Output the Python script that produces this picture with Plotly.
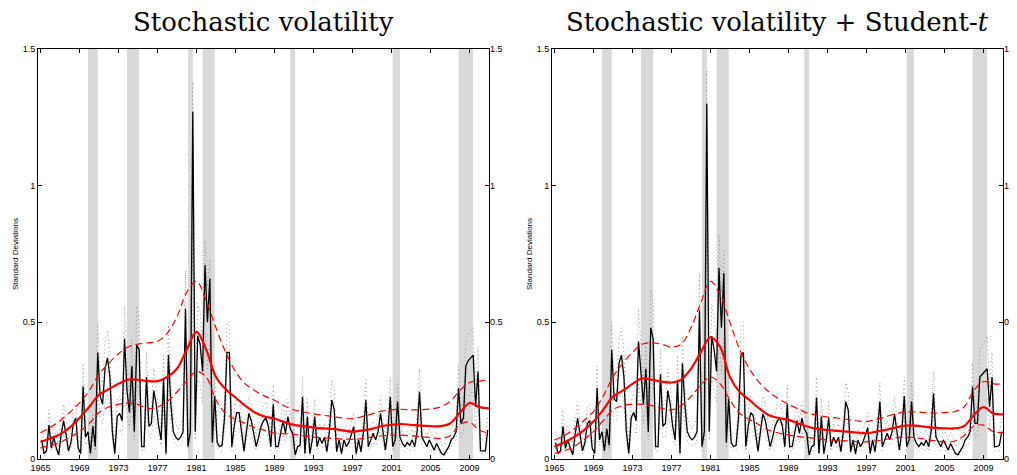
import plotly.graph_objects as go

# ---------------- data ----------------
START_YEAR = 1965
N_QUARTERS = 184  # 1965Q1 .. 2010Q4

# Stochastic volatility (left panel): posterior median and bands, quarterly
SV_MED = [
    0.07, 0.02, 0.03, 0.124,   0.04, 0.08, 0.04, 0.015,   0.09, 0.14, 0.09, 0.03,   0.06, 0.13, 0.15, 0.04,
    0.02, 0.265, 0.08, 0.10,   0.02, 0.12, 0.045, 0.39,   0.23, 0.20, 0.33, 0.37,   0.30, 0.10, 0.02, 0.155,
    0.167, 0.14, 0.44, 0.25,   0.17, 0.34, 0.10, 0.417,   0.40, 0.045, 0.045, 0.30,  0.12, 0.13, 0.25, 0.20,
    0.12, 0.07, 0.29, 0.02,    0.38, 0.20, 0.10, 0.08,    0.07, 0.08, 0.10, 0.55,    0.045, 0.10, 1.27, 0.10,
    0.45, 0.42, 0.32, 0.71,    0.50, 0.66, 0.06, 0.23,    0.06, 0.045, 0.05, 0.15,   0.39, 0.39, 0.045, 0.12,
    0.17, 0.17, 0.10, 0.03,    0.10, 0.167, 0.14, 0.09,   0.045, 0.08, 0.12, 0.14,   0.15, 0.12, 0.045, 0.20,
    0.045, 0.045, 0.09, 0.14,  0.094, 0.155, 0.11, 0.094, 0.015, 0.045, 0.05, 0.228, 0.02, 0.155, 0.02, 0.07,
    0.155, 0.045, 0.08, 0.057, 0.08, 0.027, 0.10, 0.216,  0.18, 0.027, 0.07, 0.02,   0.07, 0.045, 0.06, 0.09,
    0.118, 0.02, 0.07, 0.027,  0.10, 0.216, 0.045, 0.07,  0.094, 0.07, 0.10, 0.167,  0.09, 0.033, 0.10, 0.228,
    0.045, 0.07, 0.21, 0.08,   0.057, 0.045, 0.06, 0.05,  0.07, 0.045, 0.10, 0.246,  0.08, 0.06, 0.045, 0.07,
    0.05, 0.033, 0.057, 0.04,  0.02, 0.015, 0.03, 0.045,  0.07, 0.08, 0.10, 0.26,    0.13, 0.15, 0.34, 0.36,
    0.37, 0.38, 0.19, 0.32,    0.03, 0.03, 0.03, 0.106,
]
SV_UP = [
    0.11, 0.05, 0.07, 0.18,   0.08, 0.13, 0.08, 0.05,   0.14, 0.20, 0.14, 0.07,   0.10, 0.19, 0.21, 0.08,
    0.05, 0.35, 0.13, 0.15,   0.05, 0.17, 0.08, 0.50,   0.31, 0.27, 0.43, 0.47,   0.39, 0.15, 0.05, 0.22,
    0.23, 0.20, 0.56, 0.33,   0.23, 0.44, 0.15, 0.56,   0.51, 0.08, 0.08, 0.39,   0.17, 0.19, 0.33, 0.27,
    0.17, 0.11, 0.38, 0.05,   0.49, 0.27, 0.15, 0.13,   0.11, 0.13, 0.15, 0.69,   0.08, 0.15, 1.38, 0.15,
    0.57, 0.53, 0.41, 0.80,   0.63, 0.73, 0.10, 0.31,   0.10, 0.08, 0.09, 0.21,   0.50, 0.50, 0.08, 0.17,
    0.23, 0.23, 0.15, 0.07,   0.15, 0.23, 0.20, 0.14,   0.08, 0.13, 0.17, 0.20,   0.21, 0.17, 0.08, 0.27,
    0.08, 0.08, 0.14, 0.20,   0.14, 0.22, 0.16, 0.14,   0.05, 0.08, 0.09, 0.30,   0.05, 0.22, 0.05, 0.11,
    0.22, 0.08, 0.13, 0.10,   0.13, 0.06, 0.15, 0.29,   0.25, 0.06, 0.11, 0.05,   0.11, 0.08, 0.10, 0.14,
    0.17, 0.05, 0.11, 0.06,   0.15, 0.29, 0.08, 0.11,   0.14, 0.11, 0.15, 0.23,   0.14, 0.07, 0.15, 0.30,
    0.08, 0.11, 0.28, 0.13,   0.10, 0.08, 0.10, 0.09,   0.11, 0.08, 0.15, 0.33,   0.13, 0.10, 0.08, 0.11,
    0.09, 0.07, 0.10, 0.08,   0.05, 0.05, 0.07, 0.08,   0.11, 0.13, 0.15, 0.34,   0.19, 0.21, 0.44, 0.46,
    0.47, 0.48, 0.26, 0.41,   0.07, 0.07, 0.07, 0.16,
]
SV_LO = [
    0.05, 0.01, 0.02, 0.08,   0.03, 0.05, 0.03, 0.01,   0.06, 0.09, 0.06, 0.02,   0.04, 0.08, 0.10, 0.03,
    0.01, 0.17, 0.05, 0.07,   0.01, 0.08, 0.03, 0.25,   0.15, 0.13, 0.21, 0.24,   0.20, 0.07, 0.01, 0.10,
    0.11, 0.09, 0.29, 0.16,   0.11, 0.22, 0.07, 0.27,   0.26, 0.03, 0.03, 0.20,   0.08, 0.08, 0.16, 0.13,
    0.08, 0.05, 0.19, 0.01,   0.25, 0.13, 0.07, 0.05,   0.05, 0.05, 0.07, 0.36,   0.03, 0.07, 0.83, 0.07,
    0.29, 0.27, 0.21, 0.46,   0.33, 0.43, 0.04, 0.15,   0.04, 0.03, 0.03, 0.10,   0.25, 0.25, 0.03, 0.08,
    0.11, 0.11, 0.07, 0.02,   0.07, 0.11, 0.09, 0.06,   0.03, 0.05, 0.08, 0.09,   0.10, 0.08, 0.03, 0.13,
    0.03, 0.03, 0.06, 0.09,   0.06, 0.10, 0.07, 0.06,   0.01, 0.03, 0.03, 0.15,   0.01, 0.10, 0.01, 0.05,
    0.10, 0.03, 0.05, 0.04,   0.05, 0.02, 0.07, 0.14,   0.12, 0.02, 0.05, 0.01,   0.05, 0.03, 0.04, 0.06,
    0.08, 0.01, 0.05, 0.02,   0.07, 0.14, 0.03, 0.05,   0.06, 0.05, 0.07, 0.11,   0.06, 0.02, 0.07, 0.15,
    0.03, 0.05, 0.14, 0.05,   0.04, 0.03, 0.04, 0.03,   0.05, 0.03, 0.07, 0.16,   0.05, 0.04, 0.03, 0.05,
    0.03, 0.02, 0.04, 0.03,   0.01, 0.01, 0.02, 0.03,   0.05, 0.05, 0.07, 0.17,   0.08, 0.10, 0.22, 0.23,
    0.24, 0.25, 0.12, 0.21,   0.02, 0.02, 0.02, 0.07,
]

# Stochastic volatility + Student-t (right panel)
SVT_MED = [
    0.06, 0.02, 0.03, 0.12,    0.04, 0.07, 0.04, 0.015,   0.09, 0.15, 0.09, 0.03,    0.06, 0.13, 0.14, 0.04,
    0.02, 0.26, 0.07, 0.10,    0.03, 0.11, 0.05, 0.40,    0.22, 0.21, 0.35, 0.38,    0.30, 0.10, 0.02, 0.15,
    0.17, 0.14, 0.43, 0.30,    0.20, 0.33, 0.10, 0.48,    0.44, 0.045, 0.045, 0.31,  0.12, 0.13, 0.25, 0.20,
    0.12, 0.07, 0.29, 0.02,    0.35, 0.20, 0.10, 0.08,    0.07, 0.08, 0.10, 0.545,   0.045, 0.10, 1.30, 0.10,
    0.45, 0.40, 0.32, 0.70,    0.48, 0.68, 0.06, 0.22,    0.06, 0.045, 0.05, 0.15,   0.38, 0.39, 0.045, 0.12,
    0.17, 0.16, 0.10, 0.03,    0.10, 0.165, 0.14, 0.09,   0.045, 0.08, 0.12, 0.14,   0.15, 0.12, 0.045, 0.20,
    0.045, 0.045, 0.09, 0.14,  0.094, 0.15, 0.11, 0.094,  0.015, 0.045, 0.05, 0.225, 0.02, 0.155, 0.02, 0.07,
    0.15, 0.045, 0.08, 0.057,  0.08, 0.027, 0.10, 0.21,   0.18, 0.027, 0.07, 0.02,   0.07, 0.045, 0.06, 0.09,
    0.115, 0.02, 0.07, 0.027,  0.10, 0.21, 0.045, 0.07,   0.094, 0.07, 0.10, 0.165,  0.09, 0.033, 0.10, 0.23,
    0.045, 0.07, 0.21, 0.08,   0.057, 0.045, 0.06, 0.05,  0.07, 0.045, 0.10, 0.24,   0.08, 0.06, 0.045, 0.07,
    0.05, 0.033, 0.057, 0.04,  0.02, 0.015, 0.03, 0.045,  0.07, 0.08, 0.10, 0.265,   0.13, 0.13, 0.30, 0.31,
    0.32, 0.33, 0.19, 0.30,    0.045, 0.045, 0.05, 0.10,
]
SVT_UP = [
    0.10, 0.05, 0.07, 0.18,   0.08, 0.12, 0.08, 0.05,   0.14, 0.21, 0.14, 0.07,   0.10, 0.19, 0.20, 0.08,
    0.05, 0.34, 0.12, 0.15,   0.06, 0.16, 0.09, 0.50,   0.30, 0.28, 0.44, 0.48,   0.39, 0.15, 0.05, 0.21,
    0.24, 0.20, 0.55, 0.39,   0.27, 0.43, 0.15, 0.62,   0.55, 0.08, 0.08, 0.40,   0.17, 0.19, 0.33, 0.27,
    0.17, 0.11, 0.38, 0.05,   0.45, 0.27, 0.15, 0.13,   0.11, 0.13, 0.15, 0.68,   0.08, 0.15, 1.42, 0.15,
    0.57, 0.51, 0.41, 0.82,   0.61, 0.76, 0.10, 0.30,   0.10, 0.08, 0.09, 0.21,   0.49, 0.50, 0.08, 0.17,
    0.23, 0.22, 0.15, 0.07,   0.15, 0.23, 0.20, 0.14,   0.08, 0.13, 0.17, 0.20,   0.21, 0.17, 0.08, 0.27,
    0.08, 0.08, 0.14, 0.20,   0.14, 0.21, 0.16, 0.14,   0.05, 0.08, 0.09, 0.30,   0.05, 0.22, 0.05, 0.11,
    0.21, 0.08, 0.13, 0.10,   0.13, 0.06, 0.15, 0.28,   0.25, 0.06, 0.11, 0.05,   0.11, 0.08, 0.10, 0.14,
    0.17, 0.05, 0.11, 0.06,   0.15, 0.28, 0.08, 0.11,   0.14, 0.11, 0.15, 0.23,   0.14, 0.07, 0.15, 0.30,
    0.08, 0.11, 0.28, 0.13,   0.10, 0.08, 0.10, 0.09,   0.11, 0.08, 0.15, 0.32,   0.13, 0.10, 0.08, 0.11,
    0.09, 0.07, 0.10, 0.08,   0.05, 0.05, 0.07, 0.08,   0.11, 0.13, 0.15, 0.35,   0.19, 0.19, 0.40, 0.42,
    0.43, 0.45, 0.26, 0.39,   0.08, 0.08, 0.09, 0.15,
]
SVT_LO = [
    0.04, 0.01, 0.02, 0.08,   0.03, 0.05, 0.03, 0.01,   0.06, 0.10, 0.06, 0.02,   0.04, 0.08, 0.09, 0.03,
    0.01, 0.17, 0.05, 0.07,   0.02, 0.07, 0.03, 0.26,   0.14, 0.14, 0.23, 0.25,   0.20, 0.07, 0.01, 0.10,
    0.11, 0.09, 0.28, 0.20,   0.13, 0.21, 0.07, 0.31,   0.29, 0.03, 0.03, 0.20,   0.08, 0.08, 0.16, 0.13,
    0.08, 0.05, 0.19, 0.01,   0.23, 0.13, 0.07, 0.05,   0.05, 0.05, 0.07, 0.35,   0.03, 0.07, 0.85, 0.07,
    0.29, 0.26, 0.21, 0.45,   0.31, 0.44, 0.04, 0.14,   0.04, 0.03, 0.03, 0.10,   0.25, 0.25, 0.03, 0.08,
    0.11, 0.10, 0.07, 0.02,   0.07, 0.11, 0.09, 0.06,   0.03, 0.05, 0.08, 0.09,   0.10, 0.08, 0.03, 0.13,
    0.03, 0.03, 0.06, 0.09,   0.06, 0.10, 0.07, 0.06,   0.01, 0.03, 0.03, 0.15,   0.01, 0.10, 0.01, 0.05,
    0.10, 0.03, 0.05, 0.04,   0.05, 0.02, 0.07, 0.14,   0.12, 0.02, 0.05, 0.01,   0.05, 0.03, 0.04, 0.06,
    0.07, 0.01, 0.05, 0.02,   0.07, 0.14, 0.03, 0.05,   0.06, 0.05, 0.07, 0.11,   0.06, 0.02, 0.07, 0.15,
    0.03, 0.05, 0.14, 0.05,   0.04, 0.03, 0.04, 0.03,   0.05, 0.03, 0.07, 0.16,   0.05, 0.04, 0.03, 0.05,
    0.03, 0.02, 0.04, 0.03,   0.01, 0.01, 0.02, 0.03,   0.05, 0.05, 0.07, 0.17,   0.08, 0.08, 0.19, 0.20,
    0.21, 0.22, 0.12, 0.20,   0.03, 0.03, 0.03, 0.07,
]

# Smooth trend component (annual readings)
TREND_YEARS = list(range(1965, 2011)) + [2011]
SV_TREND = [0.063, 0.075, 0.09, 0.115, 0.15, 0.19, 0.235, 0.255, 0.275, 0.29, 0.29, 0.285, 0.285, 0.30,
            0.33, 0.40, 0.465, 0.40, 0.30, 0.255, 0.225, 0.195, 0.17, 0.155, 0.148, 0.135, 0.125, 0.12,
            0.115, 0.112, 0.11, 0.105, 0.10, 0.105, 0.11, 0.12, 0.125, 0.128, 0.125, 0.122, 0.12, 0.12,
            0.13, 0.168, 0.205, 0.19, 0.185]
SV_TREND_UP = [0.096, 0.115, 0.14, 0.17, 0.205, 0.25, 0.31, 0.35, 0.385, 0.41, 0.42, 0.425, 0.43, 0.46,
               0.52, 0.61, 0.65, 0.58, 0.48, 0.39, 0.32, 0.275, 0.25, 0.23, 0.215, 0.195, 0.18, 0.172,
               0.165, 0.16, 0.155, 0.15, 0.147, 0.155, 0.165, 0.175, 0.18, 0.182, 0.18, 0.18, 0.183,
               0.19, 0.21, 0.25, 0.28, 0.285, 0.29]
SV_TREND_LO = [0.04, 0.05, 0.06, 0.08, 0.10, 0.13, 0.17, 0.19, 0.20, 0.205, 0.20, 0.185, 0.19, 0.21,
               0.245, 0.285, 0.32, 0.30, 0.216, 0.167, 0.145, 0.13, 0.115, 0.105, 0.095, 0.092, 0.09,
               0.085, 0.08, 0.077, 0.075, 0.073, 0.072, 0.075, 0.08, 0.085, 0.087, 0.087, 0.085, 0.082,
               0.078, 0.075, 0.085, 0.125, 0.135, 0.105, 0.095]

SVT_TREND = [0.045, 0.06, 0.08, 0.105, 0.137, 0.18, 0.228, 0.25, 0.275, 0.295, 0.29, 0.283, 0.28, 0.29,
             0.33, 0.39, 0.445, 0.41, 0.30, 0.245, 0.216, 0.185, 0.16, 0.15, 0.143, 0.13, 0.118, 0.11,
             0.106, 0.103, 0.10, 0.097, 0.094, 0.10, 0.107, 0.115, 0.122, 0.122, 0.118, 0.114, 0.112,
             0.112, 0.12, 0.16, 0.19, 0.167, 0.163]
SVT_TREND_UP = [0.07, 0.085, 0.11, 0.14, 0.173, 0.23, 0.30, 0.35, 0.39, 0.42, 0.425, 0.42, 0.41, 0.42,
                0.48, 0.57, 0.65, 0.60, 0.50, 0.40, 0.33, 0.28, 0.245, 0.22, 0.20, 0.183, 0.167, 0.16,
                0.153, 0.15, 0.145, 0.14, 0.137, 0.145, 0.155, 0.165, 0.173, 0.172, 0.17, 0.168, 0.17,
                0.173, 0.19, 0.25, 0.283, 0.275, 0.274]
SVT_TREND_LO = [0.02, 0.03, 0.045, 0.07, 0.10, 0.14, 0.18, 0.195, 0.20, 0.20, 0.195, 0.185, 0.18, 0.195,
                0.228, 0.27, 0.30, 0.275, 0.216, 0.167, 0.145, 0.125, 0.105, 0.095, 0.088, 0.082, 0.078,
                0.074, 0.07, 0.068, 0.066, 0.064, 0.063, 0.066, 0.072, 0.078, 0.08, 0.078, 0.072, 0.067,
                0.063, 0.065, 0.085, 0.12, 0.124, 0.10, 0.097]

# NBER recessions (mid-quarter start, mid-quarter end)
RECESSIONS = [(1969.875, 1970.875), (1973.875, 1975.125), (1980.125, 1980.625), (1981.625, 1982.875),
              (1990.625, 1991.125), (2001.125, 2001.875), (2007.875, 2009.375)]

X_TICKS = list(range(1965, 2010, 4))
Y_TICKS = [0, 0.5, 1, 1.5]
Y_TICKTEXT = ["0", "0.5", "1", "1.5"]
TITLES = ["Stochastic volatility", "Stochastic volatility + Student-<i>t</i>"]
Y_LABEL = "Standard Deviations"

# ---------------- figure ----------------
OFF = 8                      # default page body margin
W, H = 1017 - OFF, 475 - OFF
quarters = [START_YEAR + 0.125 + 0.25 * i for i in range(N_QUARTERS)]

panels = [
    dict(med=SV_MED, up=SV_UP, lo=SV_LO, tr=SV_TREND, tu=SV_TREND_UP, tl=SV_TREND_LO),
    dict(med=SVT_MED, up=SVT_UP, lo=SVT_LO, tr=SVT_TREND, tu=SVT_TREND_UP, tl=SVT_TREND_LO),
]
domains = [((38 - OFF) / W, (489 - OFF) / W), ((552 - OFF) / W, (1003 - OFF) / W)]
TOP, BOTTOM = 49 - OFF, H - (459 - OFF)
PLOT_H = H - TOP - BOTTOM

fig = go.Figure()
shapes = []
annotations = []
tickfont = dict(family="Liberation Sans, Arial, sans-serif", size=9, color="black")

for k, p in enumerate(panels):
    xa = "x" if k == 0 else "x2"
    ya = "y" if k == 0 else "y2"
    common = dict(xaxis=xa, yaxis=ya, mode="lines", showlegend=False, hoverinfo="skip")
    fig.add_trace(go.Scatter(x=quarters, y=p["up"], line=dict(color="#808080", width=0.8, dash="1px,3px"), **common))
    fig.add_trace(go.Scatter(x=quarters, y=p["lo"], line=dict(color="#808080", width=0.8, dash="1px,3px"), **common))
    fig.add_trace(go.Scatter(x=quarters, y=p["med"], line=dict(color="black", width=1.3), **common))
    fig.add_trace(go.Scatter(x=TREND_YEARS, y=p["tu"], line=dict(color="#ff0000", width=1.2, dash="7px,4px", shape="spline"), **common))
    fig.add_trace(go.Scatter(x=TREND_YEARS, y=p["tl"], line=dict(color="#ff0000", width=1.2, dash="7px,4px", shape="spline"), **common))
    fig.add_trace(go.Scatter(x=TREND_YEARS, y=p["tr"], line=dict(color="#ff0000", width=2.2, shape="spline"), **common))
    # placeholder trace for right-hand label axis
    fig.add_trace(go.Scatter(x=[None], y=[None], xaxis=xa, yaxis="y3" if k == 0 else "y4",
                             showlegend=False, hoverinfo="skip"))

    for (a, b) in RECESSIONS:
        shapes.append(dict(type="rect", xref=xa, yref=f"{ya} domain", x0=a, x1=b, y0=0, y1=1,
                           fillcolor="#d9d9d9", line=dict(width=0), layer="below"))

    d0, d1 = domains[k]
    annotations.append(dict(text=TITLES[k], xref="paper", yref="paper", x=(d0 + d1) / 2,
                            y=1 + (49 - 22) / PLOT_H,
                            xanchor="center", yanchor="middle", showarrow=False,
                            font=dict(family="DejaVu Serif, Liberation Serif, serif", size=26, color="black")))
    annotations.append(dict(text=Y_LABEL, xref="paper", yref="paper", x=d0 - 23 / W, y=0.5,
                            xanchor="center", yanchor="middle", textangle=-90, showarrow=False,
                            font=dict(family="Liberation Sans, Arial, sans-serif", size=8, color="black")))

xcommon = dict(range=[1964.75, 2011.0], tickvals=X_TICKS, ticks="inside", ticklen=4, tickcolor="black",
               showline=True, linecolor="black", linewidth=1, mirror="ticks", showgrid=False,
               zeroline=False, tickfont=tickfont, automargin=False)
ycommon = dict(range=[0, 1.5], tickvals=Y_TICKS, ticktext=Y_TICKTEXT, ticks="inside", ticklen=4,
               tickcolor="black", showline=True, linecolor="black", linewidth=1, mirror="ticks",
               showgrid=False, zeroline=False, tickfont=tickfont, automargin=False, domain=[0, 1])
ylabels = dict(range=[0, 1.5], tickvals=Y_TICKS, ticktext=Y_TICKTEXT, ticks="", showline=False,
               showgrid=False, zeroline=False, tickfont=tickfont, automargin=False, side="right")

fig.update_layout(
    width=W, height=H,
    margin=dict(l=0, r=0, t=TOP, b=BOTTOM),
    paper_bgcolor="white", plot_bgcolor="white",
    xaxis=dict(domain=list(domains[0]), anchor="y", **xcommon),
    xaxis2=dict(domain=list(domains[1]), anchor="y2", **xcommon),
    yaxis=dict(anchor="x", **ycommon),
    yaxis2=dict(anchor="x2", **ycommon),
    yaxis3=dict(anchor="x", overlaying="y", **ylabels),
    yaxis4=dict(anchor="x2", overlaying="y2", **ylabels),
    shapes=shapes,
    annotations=annotations,
)

fig.write_html("out.html")
